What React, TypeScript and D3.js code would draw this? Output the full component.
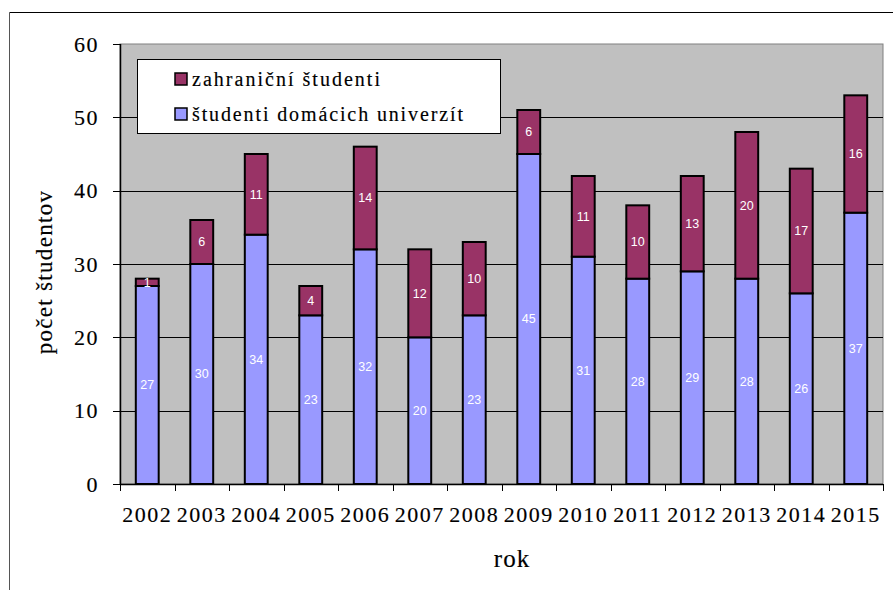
import { useMemo } from 'react';
import * as d3 from 'd3';

const years = ['2002', '2003', '2004', '2005', '2006', '2007', '2008', '2009', '2010', '2011', '2012', '2013', '2014', '2015'];
const domestic = [27, 30, 34, 23, 32, 20, 23, 45, 31, 28, 29, 28, 26, 37];
const foreign = [1, 6, 11, 4, 14, 12, 10, 6, 11, 10, 13, 20, 17, 16];
const yTicks = [0, 10, 20, 30, 40, 50, 60];
const seriesNames = ['zahraniční študenti', 'študenti domácich univerzít'];

const WIDTH = 893;
const HEIGHT = 590;
const COLORS = { foreign: '#993366', domestic: '#9999ff', plot: '#c0c0c0' };
const serif = '"Liberation Serif", "Times New Roman", serif';
const sans = '"Liberation Sans", Arial, sans-serif';
// slightly heavier text, like the GDI rendering of the original
const heavy = { stroke: '#000', strokeWidth: 0.15 };

export default function App() {
    const plot = { left: 120, right: 883, top: 44, bottom: 484 };

    const x = useMemo(() => d3.scaleBand<string>()
        .domain(years)
        .range([plot.left, plot.right])
        .paddingInner(0.58)
        .paddingOuter(0.29), []);

    const y = useMemo(() => d3.scaleLinear()
        .domain([0, 60])
        .range([plot.bottom, plot.top]), []);

    // category boundaries for x ticks
    const step = (plot.right - plot.left) / years.length;
    const xTickPos = d3.range(years.length + 1).map(i => plot.left + i * step);

    return (
        <svg width={WIDTH} height={HEIGHT} style={{ position: 'absolute', left: 0, top: 0, background: '#fff' }}>
            {/* outer frame */}
            <line x1={9.5} y1={12.5} x2={WIDTH} y2={12.5} stroke="#000" />
            <line x1={9.5} y1={12.5} x2={9.5} y2={HEIGHT} stroke="#555" />

            {/* plot area */}
            <rect x={plot.left} y={plot.top} width={plot.right - plot.left} height={plot.bottom - plot.top}
                fill={COLORS.plot} stroke="#808080" strokeWidth={1} />

            {/* gridlines */}
            {yTicks.filter(t => t > 0 && t < 60).map(t => (
                <line key={t} x1={plot.left} x2={plot.right} y1={Math.round(y(t)) + 0.5} y2={Math.round(y(t)) + 0.5}
                    stroke="#000" strokeWidth={1} />
            ))}

            {/* bars */}
            {years.map((yr, i) => {
                const bx = x(yr)!;
                const bw = x.bandwidth();
                const d0 = y(0), d1 = y(domestic[i]), f1 = y(domestic[i] + foreign[i]);
                return (
                    <g key={yr}>
                        <rect x={bx} y={d1} width={bw} height={d0 - d1} fill={COLORS.domestic} stroke="#000" strokeWidth={2} />
                        <rect x={bx} y={f1} width={bw} height={d1 - f1} fill={COLORS.foreign} stroke="#000" strokeWidth={2} />
                        <text x={bx + bw / 2} y={(d0 + d1) / 2} dy="0.35em" textAnchor="middle"
                            fontFamily={sans} fontSize={12.5} fill="#fff">{domestic[i]}</text>
                        <text x={bx + bw / 2} y={(d1 + f1) / 2} dy="0.35em" textAnchor="middle"
                            fontFamily={sans} fontSize={12.5} fill="#fff">{foreign[i]}</text>
                    </g>
                );
            })}

            {/* axes */}
            <line x1={plot.left + 0.5} x2={plot.left + 0.5} y1={plot.top} y2={plot.bottom} stroke="#000" strokeWidth={1.5} />
            <line x1={plot.left} x2={plot.right} y1={plot.bottom + 0.5} y2={plot.bottom + 0.5} stroke="#000" strokeWidth={1.5} />
            {yTicks.map(t => (
                <g key={t}>
                    <line x1={plot.left - 7} x2={plot.left} y1={Math.round(y(t)) + 0.5} y2={Math.round(y(t)) + 0.5} stroke="#000" />
                    <text x={99} y={y(t)} dy="0.35em" textAnchor="end" fontFamily={serif} fontSize={22}
                        letterSpacing={1.5} fill="#000" {...heavy}>{t}</text>
                </g>
            ))}
            {xTickPos.map((p, i) => (
                <line key={i} x1={Math.round(p) + 0.5} x2={Math.round(p) + 0.5} y1={plot.bottom} y2={plot.bottom + 7} stroke="#000" />
            ))}
            {years.map(yr => (
                <text key={yr} x={x(yr)! + x.bandwidth() / 2} y={522} textAnchor="middle"
                    fontFamily={serif} fontSize={22} letterSpacing={1.5} fill="#000" {...heavy}>{yr}</text>
            ))}

            {/* axis titles */}
            <text x={512} y={567} textAnchor="middle" fontFamily={serif} fontSize={25} letterSpacing={1}
                fill="#000" {...heavy}>rok</text>
            <text transform="translate(52,272) rotate(-90)" textAnchor="middle" fontFamily={serif} fontSize={23}
                letterSpacing={1.3} fill="#000" {...heavy}>počet študentov</text>

            {/* legend */}
            <rect x={137.5} y={59.5} width={363} height={74} fill="#fff" stroke="#000" />
            {seriesNames.map((name, i) => (
                <g key={name} transform={`translate(0,${i * 35})`}>
                    <rect x={175} y={73} width={12} height={12} fill={i === 0 ? COLORS.foreign : COLORS.domestic} stroke="#000" strokeWidth={1.5} />
                    <text x={192} y={86} fontFamily={serif} fontSize={20} textLength={i === 0 ? 188 : 271}
                        lengthAdjust="spacing" fill="#000" {...heavy}>{name}</text>
                </g>
            ))}
        </svg>
    );
}
